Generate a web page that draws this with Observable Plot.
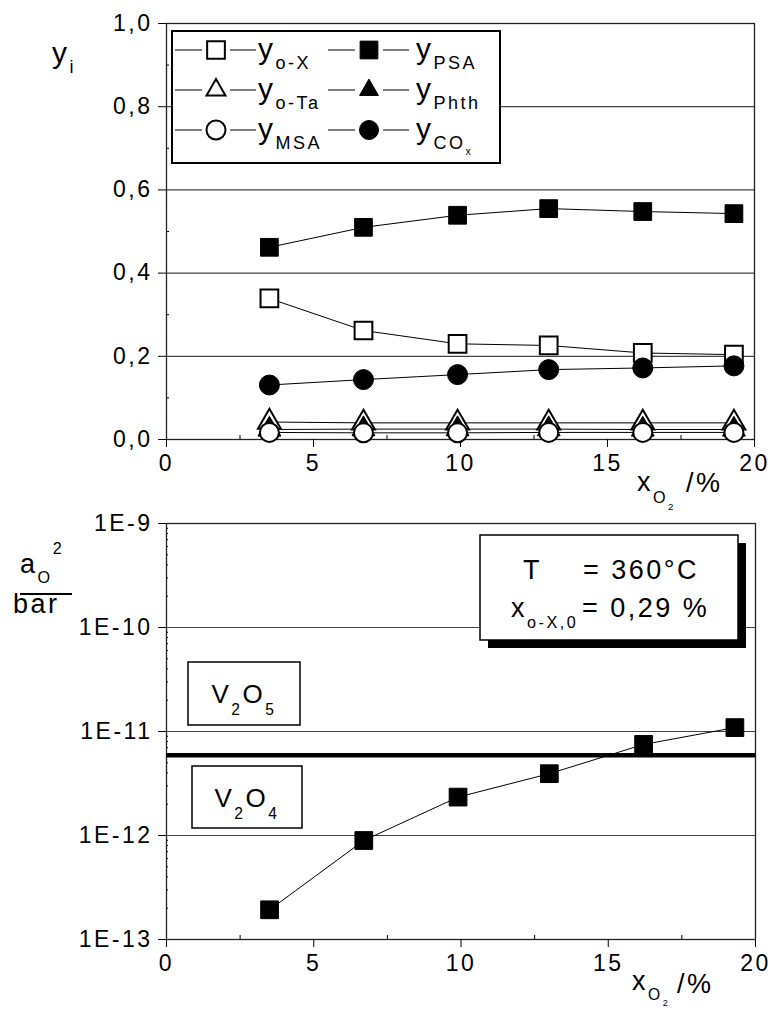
<!DOCTYPE html>
<html><head><meta charset="utf-8">
<script src="https://cdn.jsdelivr.net/npm/d3@7"></script>
<script src="https://cdn.jsdelivr.net/npm/@observablehq/plot@0.6"></script>
<style>
html,body{margin:0;padding:0;background:#fff;overflow:hidden}
#fig{position:relative;width:773px;height:1010px;background:#fff}
#fig svg{position:absolute;left:0}
</style></head><body><div id="fig"></div>
<script>
// ---- data ----
const xO2   = [3.5, 6.7, 9.9, 13.0, 16.2, 19.3];            // x_O2 / %
const yOX   = [0.339, 0.262, 0.230, 0.226, 0.208, 0.204];
const yPSA  = [0.462, 0.510, 0.539, 0.555, 0.548, 0.543];
const yOTa  = [0.042, 0.040, 0.040, 0.040, 0.040, 0.040];
const yPhth = [0.024, 0.025, 0.025, 0.025, 0.024, 0.024];
const yMSA  = [0.017, 0.016, 0.016, 0.017, 0.017, 0.017];
const yCOx  = [0.131, 0.144, 0.156, 0.168, 0.172, 0.177];
const aO2   = [1.93e-13, 8.95e-13, 2.34e-12, 3.93e-12, 7.51e-12, 1.09e-11];
const phaseBoundary = 5.9e-12;   // V2O5 / V2O4

const xTicks = [0, 5, 10, 15, 20];
const xMinor = [2.5, 7.5, 12.5, 17.5];
const yTicks = [0, 0.2, 0.4, 0.6, 0.8, 1.0];
const yGrid  = [0.2, 0.4, 0.6, 0.8];
const yMinor = [0.1, 0.3, 0.5, 0.7, 0.9];
const logTicks = [1e-13, 1e-12, 1e-11, 1e-10, 1e-9];
const logGrid  = [1e-12, 1e-11, 1e-10];
const logMinor = [-13, -12, -11, -10].flatMap(e => [2,3,4,5,6,7,8,9].map(m => m * Math.pow(10, e)));

const legendLabels = ["y_{o-X}", "y_{PSA}", "y_{o-Ta}", "y_{Phth}", "y_{MSA}", "y_{CO_{x}}"];

// ---- series config ----
const series = [
  {key: "o-X",  values: yOX,   symbol: "square",   fill: "white", r: 10,  sw: 2},
  {key: "PSA",  values: yPSA,  symbol: "square",   fill: "black", r: 10,  sw: 1},
  {key: "o-Ta", values: yOTa,  symbol: "triangle", fill: "white", r: 8.5, sw: 2},
  {key: "Phth", values: yPhth, symbol: "triangle", fill: "black", r: 8.5, sw: 1},
  {key: "MSA",  values: yMSA,  symbol: "circle",   fill: "white", r: 9.5, sw: 2},
  {key: "COx",  values: yCOx,  symbol: "circle",   fill: "black", r: 10,  sw: 1}
];
const rows = series.flatMap(s => xO2.map((x, i) => ({series: s.key, x, y: s.values[i]})));
const rowsA = xO2.map((x, i) => ({x, a: aO2[i]}));

const font = "'Liberation Sans', Arial, Helvetica, sans-serif";
const fmtComma = d => d.toFixed(1).replace(".", ",");
const fmtE = d => "1E" + Math.round(Math.log10(d));
const baseStyle = {fontFamily: font, fontSize: "23px", letterSpacing: "2.5px", overflow: "visible", background: "transparent", color: "#000"};

// ---- top panel ----
const topPlot = Plot.plot({
  width: 773, height: 490,
  marginLeft: 166, marginRight: 19, marginTop: 23, marginBottom: 51,
  style: baseStyle,
  x: {domain: [0, 20], label: null},
  y: {domain: [0, 1], label: null},
  marks: [
    Plot.gridY(yGrid, {stroke: "#444", strokeOpacity: 1, strokeWidth: 1.2}),
    Plot.tickY(yMinor, {y: d => d, insetRight: 585, stroke: "#000"}),
    Plot.tickX(xMinor, {x: d => d, insetTop: 412, stroke: "#000"}),
    Plot.frame({stroke: "#222", strokeWidth: 1.3}),
    Plot.axisX(xTicks, {tickSize: 8, tickPadding: 7, tickFormat: d => String(d), label: null}),
    Plot.axisY(yTicks, {tickSize: 8, tickPadding: 6, tickFormat: fmtComma, label: null}),
    Plot.line(rows, {x: "x", y: "y", z: "series", stroke: "#000", strokeWidth: 1}),
    ...series.map(s => Plot.dot(rows.filter(r => r.series === s.key), {
      x: "x", y: "y", symbol: s.symbol, r: s.r, fill: s.fill, stroke: "#000", strokeWidth: s.sw
    }))
  ]
});
topPlot.style.top = "0px";

// ---- bottom panel ----
const botPlot = Plot.plot({
  width: 773, height: 520,
  marginLeft: 166, marginRight: 18, marginTop: 33, marginBottom: 71,
  style: baseStyle,
  x: {domain: [0, 20], label: null},
  y: {type: "log", domain: [1e-13, 1e-9], label: null},
  marks: [
    Plot.gridY(logGrid, {stroke: "#444", strokeOpacity: 1, strokeWidth: 1.2}),
    Plot.tickY(logMinor, {y: d => d, insetRight: 587, stroke: "#000"}),
    Plot.tickX(xMinor, {x: d => d, insetTop: 412, stroke: "#000"}),
    Plot.frame({stroke: "#222", strokeWidth: 1.3}),
    Plot.axisX(xTicks, {tickSize: 8, tickPadding: 7, tickFormat: d => String(d), label: null}),
    Plot.axisY(logTicks, {tickSize: 8, tickPadding: 6, tickFormat: fmtE, label: null}),
    Plot.ruleY([phaseBoundary], {stroke: "#000", strokeWidth: 4.5}),
    Plot.line(rowsA, {x: "x", y: "a", stroke: "#000", strokeWidth: 1}),
    Plot.dot(rowsA, {x: "x", y: "a", symbol: "square", r: 10, fill: "black", stroke: "#000", strokeWidth: 1})
  ]
});
botPlot.style.top = "490px";

const fig = document.getElementById("fig");
fig.appendChild(topPlot);
fig.appendChild(botPlot);

// ---- overlay: labels, legend, annotation boxes ----
const ov = d3.select(fig).append("svg")
  .attr("width", 773).attr("height", 1010)
  .style("top", "0px")
  .attr("font-family", font)
  .style("letter-spacing", "2.5px");

function rich(t, str, size, opts = {}) {
  const sub = opts.sub ?? 0.33, sup = opts.sup ?? 0.5, sc = opts.scale ?? 0.6;
  let cur = 0;
  function walk(s, sz, off) {
    let buf = "";
    const flush = () => {
      if (!buf) return;
      t.append("tspan").attr("font-size", sz).attr("dy", off - cur).text(buf);
      cur = off; buf = "";
    };
    for (let i = 0; i < s.length; i++) {
      const c = s[i];
      if ((c === "_" || c === "^") && s[i + 1] === "{") {
        flush();
        let depth = 0, j = i + 1;
        for (; j < s.length; j++) {
          if (s[j] === "{") depth++;
          else if (s[j] === "}" && --depth === 0) break;
        }
        walk(s.slice(i + 2, j), sz * sc, c === "_" ? off + sz * sub : off - sz * sup);
        i = j;
      } else buf += c;
    }
    flush();
  }
  walk(str, size, 0);
}
function addText(x, y, str, size, opts = {}) {
  const t = ov.append("text").attr("x", x).attr("y", y).attr("font-size", size)
    .attr("text-anchor", opts.anchor || "start").attr("fill", "#000")
    .style("white-space", "pre");
  rich(t, str, size, opts);
  return t;
}

// axis titles
addText(52, 63, "y_{i}", 30);
addText(637, 491, "x_{O_{2}}", 27, {sub: 0.45});
addText(686, 492, "/%", 27);
addText(632, 990, "x_{O_{2}}", 27, {sub: 0.38, scale: 0.58});
addText(677, 993, "/%", 27);
addText(20, 573, "a_{O}^{2}", 27, {sub: 0.38, sup: 0.7});
ov.append("line").attr("x1", 20).attr("x2", 72).attr("y1", 594).attr("y2", 594).attr("stroke", "#000").attr("stroke-width", 2);
addText(13, 613, "bar", 27);

// legend
ov.append("rect").attr("x", 172).attr("y", 31).attr("width", 328).attr("height", 132)
  .attr("fill", "#fff").attr("stroke", "#000").attr("stroke-width", 2);
const colX = [175, 328], rowY = [50, 90, 130], textX = [258, 416];
const d3sym = {square: d3.symbolSquare, triangle: d3.symbolTriangle, circle: d3.symbolCircle};
const legR = {square: 10, triangle: 7, circle: 9.5};
series.forEach((s, i) => {
  const c = i % 2, r = Math.floor(i / 2);
  const x0 = colX[c], y0 = rowY[r];
  ov.append("line").attr("x1", x0).attr("x2", x0 + 27).attr("y1", y0).attr("y2", y0).attr("stroke", "#000");
  ov.append("line").attr("x1", x0 + 55).attr("x2", x0 + 81).attr("y1", y0).attr("y2", y0).attr("stroke", "#000");
  const rr = legR[s.symbol];
  ov.append("path").attr("d", d3.symbol(d3sym[s.symbol], Math.PI * rr * rr)())
    .attr("transform", `translate(${x0 + 41},${y0})`)
    .attr("fill", s.fill).attr("stroke", "#000").attr("stroke-width", s.sw);
  addText(textX[c], y0 + 9, legendLabels[i], 30);
});

// condition box
ov.append("rect").attr("x", 488).attr("y", 543).attr("width", 258).attr("height", 105).attr("fill", "#000");
ov.append("rect").attr("x", 480).attr("y", 535).attr("width", 258).attr("height", 105)
  .attr("fill", "#fff").attr("stroke", "#000").attr("stroke-width", 1.5);
addText(523, 579, "T", 27);
addText(583, 579, "= 360°C", 27);
addText(511, 617, "x_{o-X,0}", 27, {sub: 0.4});
addText(582, 617, "= 0,29 %", 27);

// phase boxes
ov.append("rect").attr("x", 188).attr("y", 662).attr("width", 112).attr("height", 63)
  .attr("fill", "#fff").attr("stroke", "#000").attr("stroke-width", 1.5);
addText(244, 703, "V_{2}O_{5}", 26, {anchor: "middle", sub: 0.45});
ov.append("rect").attr("x", 192).attr("y", 766).attr("width", 110).attr("height", 62)
  .attr("fill", "#fff").attr("stroke", "#000").attr("stroke-width", 1.5);
addText(247, 807, "V_{2}O_{4}", 26, {anchor: "middle", sub: 0.45});
</script></body></html>
